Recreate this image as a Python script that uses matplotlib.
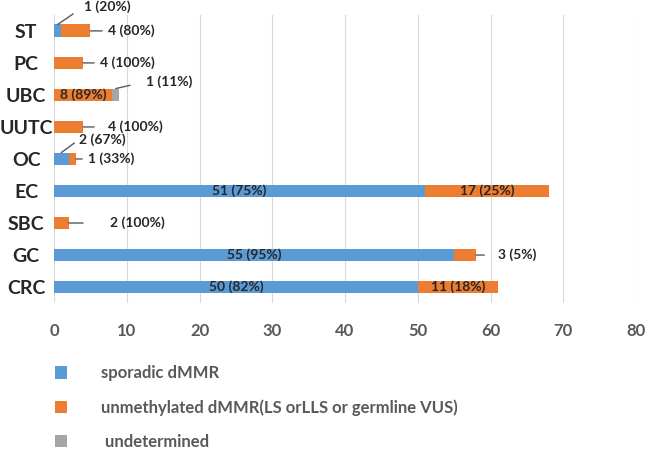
import numpy as np
import matplotlib
matplotlib.use("Agg")
import matplotlib.pyplot as plt
from matplotlib.patches import Patch

plt.rcParams['font.family'] = ['Lato', 'DejaVu Sans']

categories = ["ST", "PC", "UBC", "UUTC", "OC", "EC", "SBC", "GC", "CRC"]
sporadic = [1, 0, 0, 0, 2, 51, 0, 55, 50]
unmethylated = [4, 4, 8, 4, 1, 17, 2, 3, 11]
undetermined = [0, 0, 1, 0, 0, 0, 0, 0, 0]
series_names = ["sporadic dMMR",
                "unmethylated dMMR(LS orLLS or germline VUS)",
                " undetermined"]
colors = ["#5B9BD5", "#ED7D31", "#A5A5A5"]

# outside labels: (category, series) -> (dx pt, dy pt, gap pt, from top edge)
outside = {
    ("ST", 0): (19, 13, 7, True),
    ("ST", 1): (12.5, 0, 2, False),
    ("PC", 1): (12, 0, 2, False),
    ("UBC", 2): (22, 5, 10, True),
    ("UUTC", 1): (18, 0, 8, False),
    ("OC", 0): (13, 9.5, 2, True),
    ("OC", 1): (8.5, 0, 2, False),
    ("SBC", 1): (29.5, 0, 17, False),
    ("GC", 1): (16, 0, 8, False),
}

fig = plt.figure(figsize=(6.46, 4.51), dpi=100)
ax = fig.add_axes([0.0836, 0.328, 0.901, 0.639])

ypos = np.arange(len(categories))
h = 0.4
data = [sporadic, unmethylated, undetermined]
totals = np.sum(data, axis=0)
left = np.zeros(len(categories))
for si, vals in enumerate(data):
    vals = np.array(vals)
    ax.barh(ypos, vals, left=left, height=h, color=colors[si], zorder=2)
    for i, v in enumerate(vals):
        if v == 0:
            continue
        label = f"{v} ({round(v / totals[i] * 100)}%)"
        key = (categories[i], si)
        if key in outside:
            dx, dy, gap, top = outside[key]
            if top:
                xy = (left[i] + v / 2, ypos[i] - h / 2)
            else:
                xy = (left[i] + v, ypos[i])
            ax.annotate(label, xy=xy, xytext=(dx, dy), textcoords='offset points',
                        ha='left', va='center', fontsize=10, fontweight='bold',
                        color='#262626',
                        arrowprops=dict(arrowstyle='-', color='#595959', lw=1,
                                        shrinkA=gap, shrinkB=0,
                                        relpos=(0, 0.5)))
        else:
            ax.text(left[i] + v / 2, ypos[i], label, ha='center', va='center',
                    fontsize=10, fontweight='bold', color='#262626', zorder=3)
    left = left + vals

ax.set_xlim(0, 80)
ax.set_ylim(len(categories) - 0.5, -0.5)
ax.set_xticks(np.arange(0, 81, 10))
ax.set_yticks(ypos)
ax.set_yticklabels(categories, ha='center')
ax.tick_params(axis='y', length=0, pad=20, labelsize=14, colors='#262626')
ax.tick_params(axis='x', length=0, pad=14, labelsize=12, colors='#595959')
for lab in ax.get_xticklabels() + ax.get_yticklabels():
    lab.set_fontweight('bold')
ax.grid(axis='x', color='#D9D9D9', lw=0.8, zorder=0)
for s in ax.spines.values():
    s.set_visible(False)

handles = [Patch(facecolor=c) for c in colors]
fig.legend(handles, series_names, loc='upper left', bbox_to_anchor=(0.085, 0.19),
           frameon=False, handlelength=0.75, handleheight=0.75, handletextpad=2.0,
           labelspacing=1.08, borderaxespad=0, borderpad=0,
           prop={'size': 12, 'weight': 'bold'}, labelcolor='#595959')

fig.savefig("out.png", dpi=100)
